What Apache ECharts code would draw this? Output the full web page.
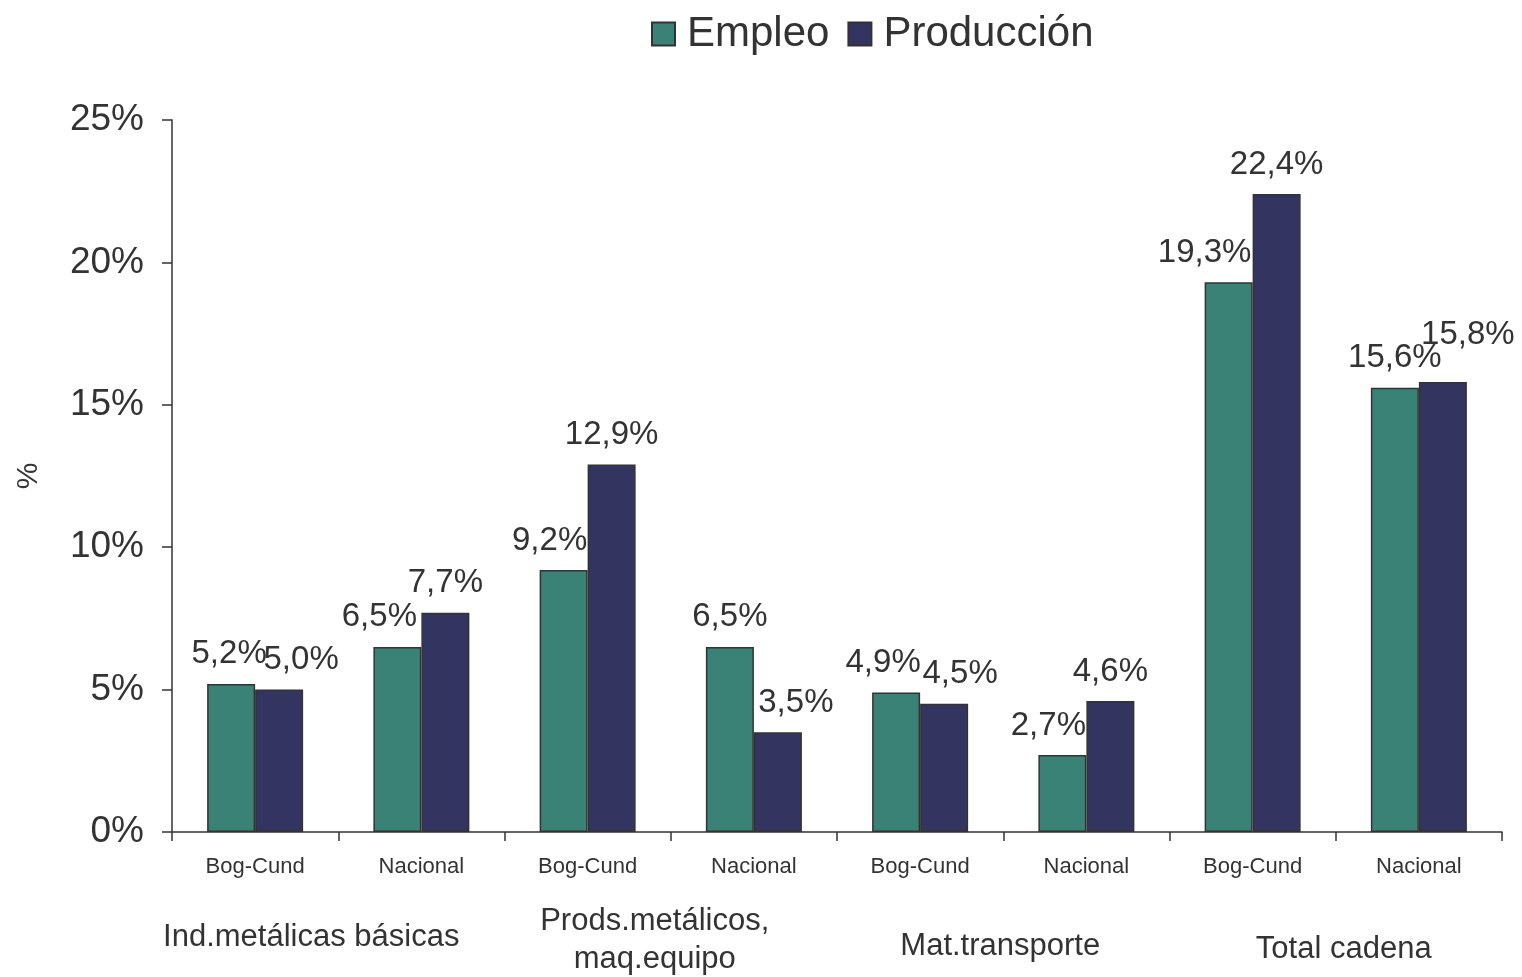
<!DOCTYPE html>
<html>
<head>
<meta charset="utf-8">
<title>Empleo y Producción</title>
<script src="https://cdn.jsdelivr.net/npm/echarts@6/dist/echarts.min.js"></script>
<style>
  html, body { margin: 0; padding: 0; background: #fff; }
  #chart { width: 1522px; height: 977px; }
</style>
</head>
<body>
<div id="chart"></div>
<script>
// Datos de la gráfica
const categorias = ["Bog-Cund", "Nacional", "Bog-Cund", "Nacional", "Bog-Cund", "Nacional", "Bog-Cund", "Nacional"];
const grupos = ["Ind.metálicas básicas", "Prods.metálicos,\nmaq.equipo", "Mat.transporte", "Total cadena"];
const empleo = [5.2, 6.5, 9.2, 6.5, 4.9, 2.7, 19.3, 15.6];
const produccion = [5.0, 7.7, 12.9, 3.5, 4.5, 4.6, 22.4, 15.8];

const fuente = "'Liberation Sans', Arial, Helvetica, sans-serif";
const texto = "#333333";

// Desplazamientos de etiquetas (como las coloca Excel)
const desplEmpleo = [-2, -18, -14, 0, -13, -14, -24, 0];
const desplProd = [22, 0, 0, 18, 16, 0, 0, 25];

function fmt(v) {
  return v.toFixed(1).replace(".", ",") + "%";
}

function serieDatos(valores, despl, extraY) {
  return valores.map((v, i) => ({
    value: v,
    label: { offset: [despl[i], extraY ? extraY[i] || 0 : 0] }
  }));
}

const chart = echarts.init(document.getElementById("chart"));

const option = {
  backgroundColor: "#ffffff",
  animation: false,
  textStyle: { fontFamily: fuente, color: texto },
  legend: {
    left: 646,
    top: 8,
    icon: "rect",
    itemWidth: 23,
    itemHeight: 23,
    itemGap: 18,
    textStyle: { fontSize: 42, color: texto, fontFamily: fuente, padding: [0, 0, 0, 7] },
    data: ["Empleo", "Producción"]
  },
  grid: { left: 172, right: 20, top: 120, bottom: 145, containLabel: false, outerBoundsMode: "none" },
  xAxis: [
    {
      type: "category",
      data: categorias,
      axisLine: { lineStyle: { color: texto, width: 1.5 } },
      axisTick: { show: true, length: 9, lineStyle: { color: texto, width: 1.5 } },
      axisLabel: { fontSize: 22, color: texto, fontFamily: fuente, margin: 24 }
    },
    {
      type: "category",
      position: "bottom",
      data: [
        { value: grupos[0], textStyle: { padding: [16, 54, 0, 0] } },
        { value: grupos[1], textStyle: { padding: [0, 32, 0, 0] } },
        { value: grupos[2], textStyle: { padding: [25, 6, 0, 0] } },
        { value: grupos[3], textStyle: { padding: [28, 0, 0, 16] } }
      ],
      axisLine: { show: false },
      axisTick: { show: false },
      axisLabel: {
        fontSize: 31,
        color: texto,
        fontFamily: fuente,
        margin: 70,
        lineHeight: 38,
        interval: 0
      }
    }
  ],
  yAxis: {
    type: "value",
    min: 0,
    max: 25,
    interval: 5,
    name: "%",
    nameLocation: "middle",
    nameGap: 128,
    nameRotate: 90,
    nameTextStyle: { fontSize: 30, color: texto, fontFamily: fuente },
    splitLine: { show: false },
    axisLine: { show: true, lineStyle: { color: texto, width: 1.5 } },
    axisTick: { show: true, length: 10, lineStyle: { color: texto, width: 1.5 } },
    axisLabel: {
      fontSize: 37,
      color: texto,
      fontFamily: fuente,
      margin: 28,
      formatter: "{value}%"
    }
  },
  series: [
    {
      name: "Empleo",
      type: "bar",
      barWidth: 48,
      barGap: "0%",
      xAxisIndex: 0,
      itemStyle: { color: "#3A8275", borderColor: "#333333", borderWidth: 1.5 },
      label: {
        show: true,
        position: "top",
        distance: 13,
        fontSize: 33,
        color: texto,
        fontFamily: fuente,
        formatter: (p) => fmt(p.value)
      },
      data: serieDatos(empleo, desplEmpleo)
    },
    {
      name: "Producción",
      type: "bar",
      barWidth: 48,
      barGap: "0%",
      xAxisIndex: 0,
      itemStyle: { color: "#33345F", borderColor: "#333333", borderWidth: 1.5 },
      label: {
        show: true,
        position: "top",
        distance: 13,
        fontSize: 33,
        color: texto,
        fontFamily: fuente,
        formatter: (p) => fmt(p.value)
      },
      data: serieDatos(produccion, desplProd, [0, 0, 0, 0, 0, 0, 0, -18])
    }
  ]
};

chart.setOption(option);
</script>
</body>
</html>
